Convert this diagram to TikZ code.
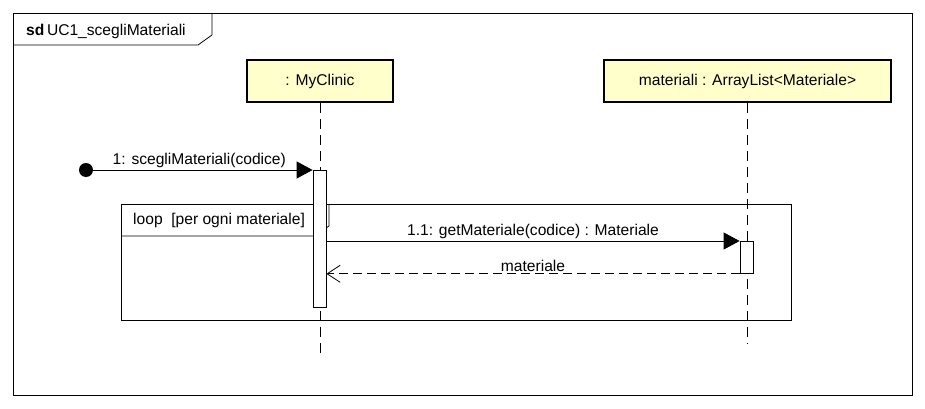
\documentclass[tikz,border=0pt]{standalone}
\usepackage{fontspec}
\setmainfont{Liberation Sans}
\usetikzlibrary{arrows.meta}
\definecolor{headfill}{HTML}{FFFFCC}
\tikzset{
  sdframe/.style={draw=black, line width=0.8pt},
  sdtext/.style={font=\fontsize{15.6}{18}\selectfont, inner sep=1pt},
  sdhead/.style={draw=black, fill=headfill, line width=2.6pt, minimum height=42pt, inner sep=0pt, font=\fontsize{15.6}{18}\selectfont},
  sdlife/.style={draw=black, line width=1pt, dash pattern=on 10pt off 6pt},
  sdact/.style={draw=black, fill=white, line width=0.8pt, minimum width=13pt, inner sep=0pt},
  sdcall/.style={draw=black, line width=0.8pt, -{Triangle[length=16pt,width=17pt]}},
  sdreply/.style={draw=black, line width=0.8pt, dash pattern=on 9pt off 5pt, -{Straight Barb[length=13pt,width=17pt]}},
  sdstart/.style={circle, fill=black, minimum size=14pt, inner sep=0pt},
}
\begin{document}
\begin{tikzpicture}[x=1pt, y=-1pt]
\useasboundingbox (0,0) rectangle (925,409);
% outer frame
\draw[sdframe] (13,13) rectangle (912,395);
\draw[sdframe] (13,45) -- (198,45) -- (212,35) -- (212,13);
\node[sdtext, anchor=west] (title) at (25,31) {\textbf{sd}\,UC1\_scegliMateriali};
% lifelines
\node[sdhead, minimum width=146pt] (clinic) at (320,81) {: MyClinic};
\node[sdhead, minimum width=287pt] (lista) at (747.5,81) {materiali : ArrayList<Materiale>};
\coordinate (clinicend) at (320,356);
\coordinate (listaend) at (747.5,344);
\draw[sdlife] (clinic.south) -- (clinicend);
\draw[sdlife] (lista.south) -- (listaend);
% loop fragment
\draw[sdframe] (121,204) rectangle (791,320);
\draw[sdframe] (121,236) -- (315,236) -- (329,226) -- (329,204);
\node[sdtext, anchor=west] (looplabel) at (132,220) {loop\ \ [per ogni materiale]};
% activations
\node[sdact, minimum height=137pt, anchor=north] (act1) at (319.5,170) {};
\node[sdact, minimum height=32pt, anchor=north] (act2) at (746.5,241) {};
% messages
\node[sdstart] (start) at (86,170) {};
\draw[sdcall] (start.center) -- node[sdtext, above=1pt] {1: scegliMateriali(codice)} (act1.north west);
\draw[sdcall] (act1.east |- act2.north west) -- node[sdtext, above=1pt] {1.1: getMateriale(codice) : Materiale} (act2.north west);
\draw[sdreply] (act2.south west) -- node[sdtext, above=1pt] {materiale} (act1.east |- act2.south west);
\end{tikzpicture}
\end{document}
